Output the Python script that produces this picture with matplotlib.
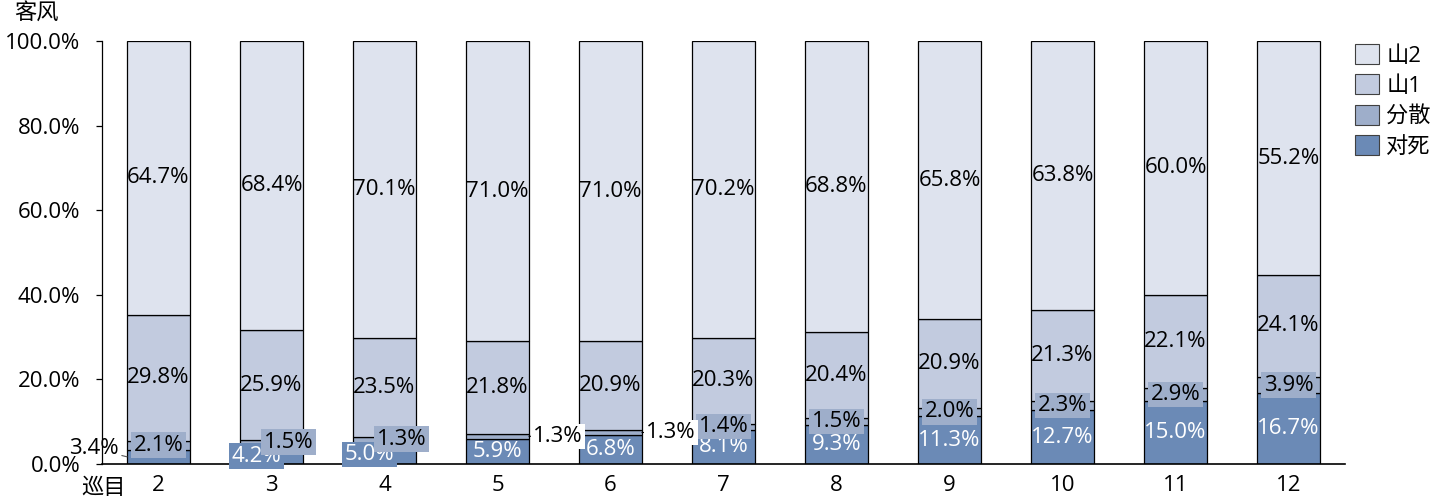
import matplotlib
matplotlib.use("Agg")
import matplotlib.pyplot as plt
from matplotlib.patches import Patch
import numpy as np

plt.rcParams['font.family'] = ['Open Sans', 'Noto Sans CJK SC', 'DejaVu Sans']

categories = ['2', '3', '4', '5', '6', '7', '8', '9', '10', '11', '12']
duisi = [3.4, 4.2, 5.0, 5.9, 6.8, 8.1, 9.3, 11.3, 12.7, 15.0, 16.7]
fensan = [2.1, 1.5, 1.3, 1.3, 1.3, 1.4, 1.5, 2.0, 2.3, 2.9, 3.9]
shan1 = [29.8, 25.9, 23.5, 21.8, 20.9, 20.3, 20.4, 20.9, 21.3, 22.1, 24.1]
shan2 = [64.7, 68.4, 70.1, 71.0, 71.0, 70.2, 68.8, 65.8, 63.8, 60.0, 55.2]
series_names = ['对死', '分散', '山1', '山2']
yticks = [0, 20, 40, 60, 80, 100]

colors = {'对死': '#6b8ab6', '分散': '#9eaeca', '山1': '#c2cbdf', '山2': '#dee3ee'}

fig = plt.figure(figsize=(14.4, 5.01), dpi=100)
ax = fig.add_axes([102/1440, 37/501, (1345-102)/1440, (464-41)/501])

x = np.arange(len(categories))
width = 0.557
data = {'对死': duisi, '分散': fensan, '山1': shan1, '山2': shan2}
bottom = np.zeros(len(categories))
bottoms = {}
for name in series_names:
    vals = np.array(data[name])
    bottoms[name] = bottom.copy()
    ax.bar(x, vals, width, bottom=bottom, color=colors[name],
           edgecolor='black', linewidth=0.9, zorder=2)
    bottom = bottom + vals

fs = 16
# labels for 山2 and 山1
for name in ['山2', '山1']:
    for i, v in enumerate(data[name]):
        ax.text(x[i], bottoms[name][i] + v/2, f'{v:.1f}%', ha='center', va='center',
                fontsize=fs, color='black', zorder=4)

# 对死 labels
px = 0.72  # points per pixel
for i, v in enumerate(duisi):
    yc = bottoms['对死'][i] + v/2
    if i == 0:
        ax.annotate(f'{v:.1f}%', xy=(x[i] - width/2, yc), xytext=(-8*px, 8*px),
                    textcoords='offset points', ha='right', va='center', fontsize=fs,
                    color='black', zorder=5,
                    arrowprops=dict(arrowstyle='-', color='#555555', lw=0.8,
                                    shrinkA=0, shrinkB=0))
    elif i in (1, 2):
        ax.annotate(f'{v:.1f}%', xy=(x[i], yc), xytext=(-15*px, -1*px),
                    textcoords='offset points', ha='center', va='center', fontsize=fs,
                    color='white', zorder=5,
                    bbox=dict(boxstyle='square,pad=0.1', fc=colors['对死'], ec='none'))
    else:
        ax.text(x[i], yc, f'{v:.1f}%', ha='center', va='center', fontsize=fs,
                color='white', zorder=4)

# 分散 labels
for i, v in enumerate(fensan):
    yc = bottoms['分散'][i] + v/2
    if i in (1, 2):
        ax.annotate(f'{v:.1f}%', xy=(x[i], yc), xytext=(17*px, 1*px),
                    textcoords='offset points', ha='center', va='center', fontsize=fs,
                    color='black', zorder=6,
                    bbox=dict(boxstyle='square,pad=0.1', fc=colors['分散'], ec='none'))
    elif i in (3, 4):
        ax.annotate(f'{v:.1f}%', xy=(x[i] + width/2, yc), xytext=(4*px, 0),
                    textcoords='offset points', ha='left', va='center', fontsize=fs,
                    color='black', zorder=6,
                    bbox=dict(boxstyle='square,pad=0.1', fc='white', ec='none'),
                    arrowprops=dict(arrowstyle='-', color='black', lw=0.8,
                                    shrinkA=0, shrinkB=0))
    else:
        ax.text(x[i], yc, f'{v:.1f}%', ha='center', va='center', fontsize=fs,
                color='black', zorder=5,
                bbox=dict(boxstyle='square,pad=0.1', fc=colors['分散'], ec='none'))

ax.set_xlim(-0.5, len(categories) - 0.5)
ax.set_ylim(0, 100)
ax.set_yticks(yticks)
ax.set_yticklabels([f'{t:.1f}%' for t in yticks], fontsize=fs)
ax.set_xticks(x)
ax.set_xticklabels(categories, fontsize=fs)
ax.tick_params(axis='y', direction='out', length=4.5, width=0.9, pad=11)
ax.tick_params(axis='x', length=0, pad=8)
for s in ['top', 'right']:
    ax.spines[s].set_visible(False)
ax.spines['left'].set_linewidth(0.9)
ax.spines['bottom'].set_linewidth(1.2)

fig.text(36/1440, 1 - 13/501, '客风', ha='center', va='center', fontsize=fs)
fig.text(104/1440, 1 - 488/501, '巡目', ha='center', va='center', fontsize=fs)

handles = [Patch(facecolor=colors[n], edgecolor='#404040', linewidth=0.8) for n in ['山2', '山1', '分散', '对死']]
leg = fig.legend(handles, ['山2', '山1', '分散', '对死'], loc='upper left',
                 bbox_to_anchor=(1355/1440, 1 - 44/501), frameon=False, fontsize=fs,
                 handlelength=1.1, handleheight=1.0, handletextpad=0.3, labelspacing=0.35,
                 borderaxespad=0, borderpad=0)

fig.savefig('out.png', dpi=100)
